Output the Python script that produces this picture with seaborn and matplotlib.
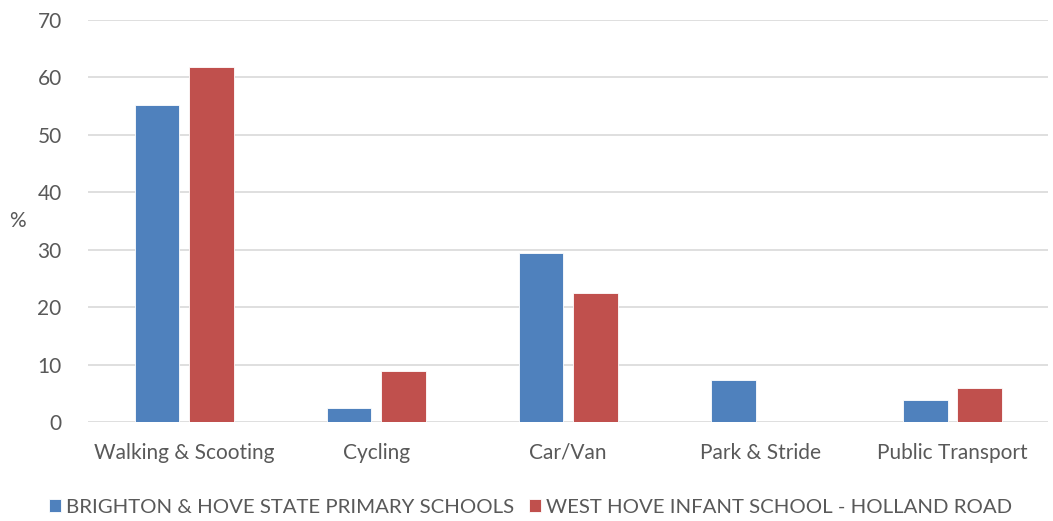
import pandas as pd
import seaborn as sns
import matplotlib.pyplot as plt

categories = ["Walking & Scooting", "Cycling", "Car/Van", "Park & Stride", "Public Transport"]
series_names = ["BRIGHTON & HOVE STATE PRIMARY SCHOOLS", "WEST HOVE INFANT SCHOOL - HOLLAND ROAD"]
brighton = [55.2, 2.5, 29.4, 7.3, 3.8]
west_hove = [61.8, 8.8, 22.5, 0, 5.9]
colours = ["#4F81BD", "#C0504D"]

sns.set_theme(style="white")
plt.rcParams['font.family'] = ['Lato', 'DejaVu Sans']

df = pd.DataFrame({
    "mode": categories * 2,
    "pct": brighton + west_hove,
    "school": [series_names[0]] * len(categories) + [series_names[1]] * len(categories),
})

fs = 15
fig = plt.figure(figsize=(10.53, 5.21), dpi=100)
ax = fig.add_axes([0.0836, 0.19, 0.912, 0.7716])
sns.barplot(data=df, x="mode", y="pct", hue="school", palette=colours,
            width=0.565, gap=0.175, ax=ax, errorbar=None, saturation=1,
            edgecolor="white", linewidth=0.6)

ax.set_ylim(0, 70)
ax.set_yticks(range(0, 71, 10))
ax.set_xlim(-0.5, 4.5)
ax.yaxis.grid(True, color="#D9D9D9", linewidth=1.2)
ax.set_axisbelow(True)
for s in ax.spines.values():
    s.set_visible(False)
ax.tick_params(axis="both", length=0, labelsize=fs, labelcolor="#595959")
ax.tick_params(axis="y", pad=19)
ax.tick_params(axis="x", pad=15)
ax.set_xlabel("")
ax.set_ylabel("%", rotation=0, fontsize=fs, color="#595959", va="center")
ax.yaxis.set_label_coords(-0.073, 0.5)

ax.legend(loc="center", bbox_to_anchor=(0.461, -0.213), ncol=2, frameon=False,
          fontsize=14.7, labelcolor="#595959", handlelength=0.6, handleheight=0.6,
          handletextpad=0.25, columnspacing=0.7)

plt.savefig("out.png", dpi=100)
